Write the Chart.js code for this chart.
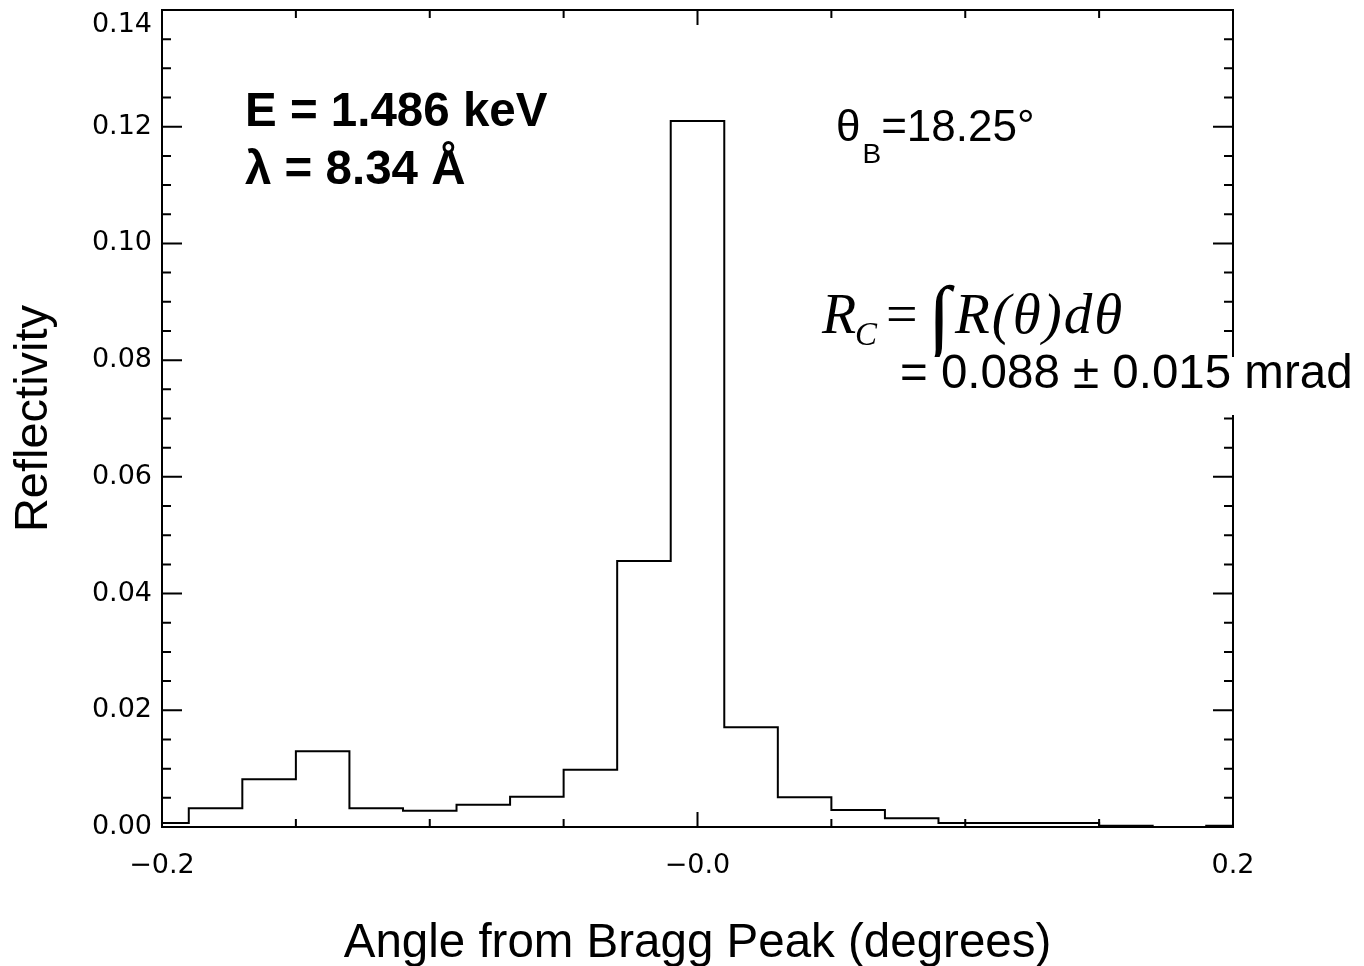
<!DOCTYPE html>
<html>
<head>
<meta charset="utf-8">
<script src="https://cdn.jsdelivr.net/npm/chart.js@4/dist/chart.umd.min.js"></script>
<style>
  body { margin: 0; background: #fff; }
  #grafico { display: block; }
</style>
</head>
<body>
<canvas id="grafico" width="1364" height="966"></canvas>
<script>
// centros dos bins (graus) e refletividade
let angulos = [-0.20, -0.18, -0.16, -0.14, -0.12, -0.10, -0.08, -0.06, -0.04, -0.02, 0.00,
               0.02, 0.04, 0.06, 0.08, 0.10, 0.12, 0.14, 0.16, 0.18, 0.20];
let refletividade = [0.0007, 0.0032, 0.0082, 0.0130, 0.0032, 0.0028, 0.0038, 0.0052, 0.0098, 0.0456, 0.1210,
                     0.0171, 0.0051, 0.0029, 0.0015, 0.0007, 0.0007, 0.0007, 0.0002, 0.0000, 0.0002];

let ticksXMaiores = [-0.2, 0.0, 0.2];
let ticksXMenores = [-0.15, -0.10, -0.05, 0.05, 0.10, 0.15];
let passoYMaior = 0.02;
let passoYMenor = 0.005;
let yMax = 0.14;

function formataX(v){
    if (Math.abs(v) < 1e-9) return '\u22120.0';
    return (v < 0 ? '\u2212' : '') + Math.abs(v).toFixed(1);
}

function formataY(v){
    // o rotulo do topo fica um pouco abaixo do tick, como no original
    if (Math.abs(v - yMax) < 1e-9) return ['', v.toFixed(2)];
    return v.toFixed(2);
}

// moldura e ticks para dentro, no estilo IDL
const molduraPlugin = {
    id: 'moldura',
    afterDatasetsDraw(chart){
        const ctx = chart.ctx;
        const a = chart.chartArea;
        const x = chart.scales.x;
        const y = chart.scales.y;
        ctx.save();
        ctx.strokeStyle = '#000';
        ctx.lineWidth = 2;
        ctx.strokeRect(a.left, a.top, a.right - a.left, a.bottom - a.top);
        ctx.beginPath();
        const marcaX = (v, len) => {
            const px = x.getPixelForValue(v);
            ctx.moveTo(px, a.bottom); ctx.lineTo(px, a.bottom - len);
            ctx.moveTo(px, a.top); ctx.lineTo(px, a.top + len);
        };
        ticksXMaiores.forEach(v => marcaX(v, 15));
        ticksXMenores.forEach(v => marcaX(v, 8));
        const nY = Math.round((y.max - y.min) / passoYMenor);
        for (let i = 0; i <= nY; i++){
            const v = y.min + i * passoYMenor;
            const maior = (i % Math.round(passoYMaior / passoYMenor)) === 0;
            const len = maior ? 20 : 9;
            const py = y.getPixelForValue(v);
            ctx.moveTo(a.left, py); ctx.lineTo(a.left + len, py);
            ctx.moveTo(a.right, py); ctx.lineTo(a.right - len, py);
        }
        ctx.stroke();
        ctx.restore();
    }
};

// textos de anotacao
const textosPlugin = {
    id: 'textos',
    afterDraw(chart){
        const ctx = chart.ctx;
        ctx.save();
        ctx.fillStyle = '#000';
        ctx.textBaseline = 'alphabetic';
        ctx.textAlign = 'left';

        ctx.font = 'bold 47.5px "Liberation Sans", Arial, sans-serif';
        ctx.fillText('E = 1.486 keV', 245, 126);
        ctx.fillText('\u03bb = 8.34 \u00c5', 245, 184);

        ctx.font = '44px "Liberation Sans", Arial, sans-serif';
        ctx.fillText('\u03b8', 836, 141);
        let xt = 836 + ctx.measureText('\u03b8').width;
        ctx.font = '28px "Liberation Sans", Arial, sans-serif';
        ctx.fillText('B', xt + 2, 163);
        xt += ctx.measureText('B').width + 2;
        ctx.font = '44px "Liberation Sans", Arial, sans-serif';
        ctx.fillText('=18.25\u00b0', xt, 141);

        // R_C = integral R(theta) d theta
        ctx.font = 'italic 56px "Liberation Serif", "Times New Roman", serif';
        ctx.fillText('R', 822, 333);
        ctx.font = 'italic 33px "Liberation Serif", "Times New Roman", serif';
        ctx.fillText('C', 855, 345);
        ctx.font = '56px "Liberation Serif", "Times New Roman", serif';
        ctx.fillText('=', 886, 333);
        ctx.font = '82px "Liberation Serif", "Times New Roman", serif';
        ctx.fillText('\u222b', 928, 343);
        ctx.font = 'italic 57px "Liberation Serif", "Times New Roman", serif';
        ctx.letterSpacing = '2px';
        ctx.fillText('R(\u03b8)d\u03b8', 955, 333);
        ctx.letterSpacing = '0px';

        ctx.font = '47.5px "Liberation Sans", Arial, sans-serif';
        const linha = '= 0.088 \u00b1 0.015 mrad';
        ctx.fillStyle = '#fff';
        ctx.fillRect(895, 357, 469, 58);
        ctx.fillStyle = '#000';
        ctx.fillText(linha, 900, 388);
        ctx.restore();
    }
};

function criaGrafico(){
    const canvas = document.getElementById('grafico');
    const grafico = new Chart(canvas, {
        type: 'line',
        data: {
            datasets: [{
                data: angulos.map((a, i) => ({x: a, y: refletividade[i]})),
                stepped: 'middle',
                borderColor: '#000',
                borderWidth: 2,
                pointRadius: 0,
                fill: false
            }]
        },
        options: {
            responsive: false,
            animation: false,
            devicePixelRatio: 1,
            layout: { padding: { top: 10, right: 131, left: 0, bottom: 0 } },
            plugins: { legend: { display: false }, tooltip: { enabled: false } },
            scales: {
                x: {
                    type: 'linear',
                    min: -0.2,
                    max: 0.2,
                    afterFit: s => { s.height = 139; s.paddingLeft = 0; s.paddingRight = 0; },
                    grid: { display: false, drawTicks: false },
                    border: { display: false },
                    ticks: {
                        stepSize: 0.2,
                        padding: 23,
                        color: '#000',
                        font: { family: '"DejaVu Sans"', size: 27 },
                        callback: v => formataX(v)
                    },
                    title: {
                        display: true,
                        text: 'Angle from Bragg Peak (degrees)',
                        color: '#000',
                        font: { family: '"Liberation Sans", Arial, sans-serif', size: 47.5, lineHeight: 1 },
                        padding: { top: 0, bottom: -2 }
                    }
                },
                y: {
                    min: 0,
                    max: yMax,
                    afterFit: s => { s.width = 162; s.paddingTop = 0; s.paddingBottom = 0; },
                    grid: { display: false, drawTicks: false },
                    border: { display: false },
                    ticks: {
                        stepSize: 0.02,
                        padding: 10,
                        color: '#000',
                        font: { family: '"DejaVu Sans"', size: 27, lineHeight: 1.1 },
                        callback: v => formataY(v)
                    },
                    title: {
                        display: true,
                        text: 'Reflectivity',
                        color: '#000',
                        font: { family: '"Liberation Sans", Arial, sans-serif', size: 47, lineHeight: 1 },
                        padding: { top: 11, bottom: 0 }
                    }
                }
            }
        },
        plugins: [molduraPlugin, textosPlugin]
    });
}

criaGrafico();
</script>
</body>
</html>
